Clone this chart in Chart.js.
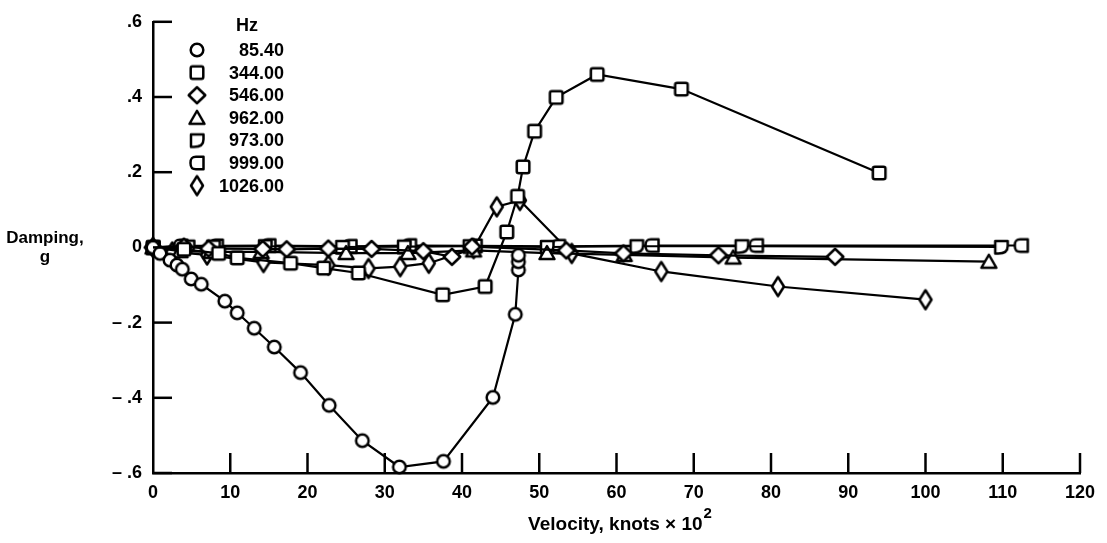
<!DOCTYPE html>
<html><head><meta charset="utf-8">
<script src="https://cdn.jsdelivr.net/npm/chart.js@4.4.1/dist/chart.umd.min.js"></script>
<style>html,body{margin:0;padding:0;background:#fff;}#wrap{width:1107px;height:543px;}</style>
</head><body><div id="wrap"><canvas id="c" width="1107" height="543"></canvas></div>
<script>
// ---- data (velocity in knots x 10^2, damping g) ----
const seriesLabels = ['85.40','344.00','546.00','962.00','973.00','999.00','1026.00'];

const v85 = [0, 0.9, 2.2, 3.1, 3.8, 4.95, 6.25, 9.3, 10.9, 13.1, 15.7, 19.1, 22.8, 27.1, 31.9, 37.6, 44.0, 46.9, 47.3, 47.3, 47.3];
const g85 = [0, -0.016, -0.034, -0.047, -0.058, -0.084, -0.098, -0.143, -0.174, -0.215, -0.265, -0.333, -0.420, -0.514, -0.584, -0.569, -0.399, -0.178, -0.060, -0.038, -0.021];

const v344 = [0, 4, 8.5, 10.9, 17.8, 22.1, 26.6, 37.5, 43.0, 45.8, 47.2, 47.9, 49.4, 52.2, 57.5, 68.4, 94.0];
const g344 = [0, -0.005, -0.016, -0.028, -0.042, -0.055, -0.068, -0.126, -0.104, 0.041, 0.136, 0.214, 0.309, 0.399, 0.460, 0.421, 0.198];

const v546 = [0, 4, 7.2, 14.2, 17.3, 22.7, 28.3, 35.0, 38.7, 41.3, 53.5, 60.9, 73.2, 88.3];
const g546 = [0, 0.002, -0.003, -0.004, -0.005, -0.003, -0.004, -0.010, -0.025, 0.002, -0.008, -0.016, -0.021, -0.025];

const v962 = [0, 3.5, 7.5, 14, 25, 33, 41.5, 51, 61, 75.1, 108.2];
const g962 = [0, -0.010, -0.012, -0.012, -0.015, -0.015, -0.008, -0.015, -0.020, -0.027, -0.038];

const v973 = [0, 4.5, 7.8, 14.5, 24.5, 32.5, 41, 51, 62.6, 76.2, 109.8];
const g973 = [0, 0.002, 0.002, 0.003, 0.001, 0.002, 0.003, 0.001, 0.003, 0.003, 0.001];

const v999 = [0, 3.6, 8.2, 15, 25.5, 33.2, 41.7, 52.5, 64.6, 78.1, 112.4];
const g999 = [0, 0.004, 0.004, 0.005, 0.003, 0.005, 0.004, 0.003, 0.005, 0.005, 0.005];

const v1026 = [0, 2.5, 7, 14.3, 22.7, 27.9, 32.0, 35.7, 41.5, 44.5, 47.5, 54.2, 65.8, 80.9, 100.0];
const g1026 = [0, -0.012, -0.020, -0.040, -0.047, -0.056, -0.051, -0.042, -0.003, 0.108, 0.125, -0.016, -0.064, -0.104, -0.139];

const xTickValues = [0,10,20,30,40,50,60,70,80,90,100,110,120];
const yTickValues = [-0.6,-0.4,-0.2,0,0.2,0.4,0.6];
const yTickLabels = ['\u2013 .6','\u2013 .4','\u2013 .2','0','.2','.4','.6'];
const xTitle = 'Velocity, knots \u00d7 10';
const xTitleSup = '2';
const yTitleLines = ['Damping,', 'g'];
const legendTitle = 'Hz';

// ---- marker shapes ----
function makeShape(kind){
  const s = 24, c = document.createElement('canvas');
  c.width = s; c.height = s;
  const x = c.getContext('2d');
  x.translate(s/2, s/2);
  x.lineWidth = 2.5; x.strokeStyle = '#000'; x.fillStyle = '#fff'; x.lineJoin = 'round';
  x.beginPath();
  if (kind === 'circle') { x.arc(0,0,6.3,0,Math.PI*2); }
  else if (kind === 'square') {
    const r=2, a=-6.3, b=6.3;
    x.moveTo(a+r,a); x.lineTo(b-r,a); x.arcTo(b,a,b,a+r,r); x.lineTo(b,b-r); x.arcTo(b,b,b-r,b,r);
    x.lineTo(a+r,b); x.arcTo(a,b,a,b-r,r); x.lineTo(a,a+r); x.arcTo(a,a,a+r,a,r);
  }
  else if (kind === 'diamond') { x.moveTo(0,-8); x.lineTo(8.3,0); x.lineTo(0,8); x.lineTo(-8.3,0); }
  else if (kind === 'triangle') { x.moveTo(0,-7); x.lineTo(7.5,6); x.lineTo(-7.5,6); }
  else if (kind === 'dshape') {
    x.moveTo(-6,-6); x.lineTo(6.5,-6); x.lineTo(6.5,-1); x.bezierCurveTo(6.5,4.5,2,6.5,-3,6.5); x.lineTo(-6,6.5);
  }
  else if (kind === 'cshape') {
    x.moveTo(6.5,-6.3); x.lineTo(-1,-6.3); x.bezierCurveTo(-5.5,-6.3,-6.5,-4,-6.5,0); x.bezierCurveTo(-6.5,4,-5.5,6.3,-1,6.3); x.lineTo(6.5,6.3);
  }
  else if (kind === 'tall') { x.moveTo(0,-9.5); x.lineTo(6,0); x.lineTo(0,9.5); x.lineTo(-6,0); }
  x.closePath(); x.fill(); x.stroke();
  return c;
}
const shapeKinds = ['circle','square','diamond','triangle','dshape','cshape','tall'];
const shapes = shapeKinds.map(makeShape);

function pts(v,g){ return v.map((vx,i)=>({x:vx, y:g[i]})); }
const seriesData = [pts(v85,g85), pts(v344,g344), pts(v546,g546), pts(v962,g962), pts(v973,g973), pts(v999,g999), pts(v1026,g1026)];

const FONT = "'Liberation Sans', Arial, Helvetica, sans-serif";

const datasets = seriesData.map((d,i)=>({
  label: seriesLabels[i], data: d, showLine: true, borderColor:'#000', borderWidth: 2.2,
  pointStyle: shapes[i], pointRadius: 7, pointHoverRadius: 7, clip: false, tension: 0,
  backgroundColor:'#fff'
}));

const decor = {
  id: 'decor',
  afterDraw(chart){
    const ctx = chart.ctx, xs = chart.scales.x, ys = chart.scales.y, ca = chart.chartArea;
    ctx.save();
    ctx.strokeStyle = '#000'; ctx.lineWidth = 2.5;
    // inward tick marks
    ys.ticks.forEach(t=>{ const py = ys.getPixelForValue(t.value); ctx.beginPath(); ctx.moveTo(ca.left, py); ctx.lineTo(ca.left+19, py); ctx.stroke(); });
    xs.ticks.forEach(t=>{ if (t.value===0) return; const px = xs.getPixelForValue(t.value); ctx.beginPath(); ctx.moveTo(px, ca.bottom); ctx.lineTo(px, ca.bottom-20); ctx.stroke(); });
    ctx.fillStyle = '#000'; ctx.textBaseline = 'middle';
    // y axis title (horizontal)
    ctx.textAlign = 'center';
    ctx.font = "bold 17px " + FONT;
    ctx.fillText(yTitleLines[0], 45, 238);
    ctx.fillText(yTitleLines[1], 45, 257);
    // x axis title with superscript
    ctx.font = "bold 19px " + FONT;
    const w1 = ctx.measureText(xTitle).width;
    ctx.font = "bold 15px " + FONT;
    const w2 = ctx.measureText(xTitleSup).width;
    const cx = (ca.left + ca.right) / 2 + 3;
    const x0 = cx - (w1 + w2) / 2;
    ctx.textAlign = 'left';
    ctx.font = "bold 19px " + FONT;
    ctx.fillText(xTitle, x0, 525);
    ctx.font = "bold 15px " + FONT;
    ctx.fillText(xTitleSup, x0 + w1 + 1, 514);
    // legend
    ctx.font = "bold 18px " + FONT;
    ctx.textAlign = 'center';
    ctx.fillText(legendTitle, 247, 26);
    ctx.textAlign = 'right';
    const row0 = 50, step = 22.6;
    seriesLabels.forEach((lab,i)=>{
      const y = row0 + i*step;
      const img = shapes[i];
      ctx.drawImage(img, 197 - img.width/2, y - img.height/2);
      ctx.fillText(lab, 284, y+1);
    });
    ctx.restore();
  }
};

new Chart(document.getElementById('c'), {
  type: 'scatter',
  data: { datasets },
  options: {
    responsive: false, devicePixelRatio: 1, animation: false,
    layout: { padding: { left: 0, right: 27, top: 15, bottom: 0 } },
    plugins: { legend: { display: false }, tooltip: { enabled: false } },
    scales: {
      x: {
        type: 'linear', min: 0, max: 120,
        afterBuildTicks(s){ s.ticks = xTickValues.map(v=>({value:v})); },
        afterFit(s){ s.height = 70; },
        grid: { display: false, drawTicks: false },
        border: { display: true, color: '#000', width: 2.5 },
        ticks: { color:'#000', padding: 9, maxRotation: 0, autoSkip: false,
          font: { family: FONT, size: 18, weight: 'bold' },
          callback: (v)=> String(v) },
        title: { display: false }
      },
      y: {
        type: 'linear', min: -0.6, max: 0.6,
        afterBuildTicks(s){ s.ticks = yTickValues.map(v=>({value:v})); },
        afterFit(s){ s.width = 153; },
        grid: { display: false, drawTicks: false },
        border: { display: true, color: '#000', width: 2.5 },
        ticks: { color:'#000', padding: 11, autoSkip: false,
          font: { family: FONT, size: 18, weight: 'bold' },
          callback: (v)=>{ const i = yTickValues.findIndex(t=>Math.abs(t-v)<1e-9); return i>=0 ? yTickLabels[i] : ''; } }
      }
    }
  },
  plugins: [decor]
});
</script></body></html>
